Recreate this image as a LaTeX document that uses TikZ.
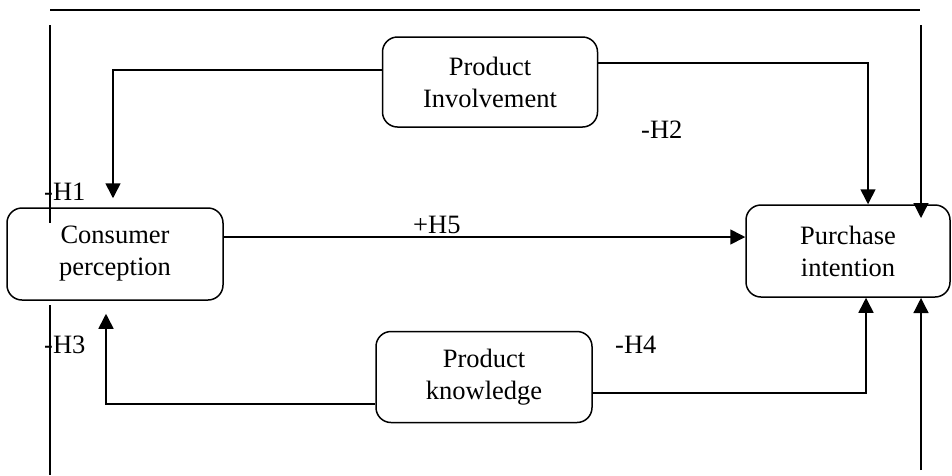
\documentclass[tikz,border=0pt]{standalone}
\usepackage{fontspec}
\setmainfont{Liberation Serif}
\usetikzlibrary{arrows.meta}
\begin{document}
\begin{tikzpicture}[x=1pt,y=-1pt,
  box/.style={draw, line width=1.5pt, rounded corners=15pt, align=center,
    inner sep=0pt, font=\fontsize{26.5}{32}\selectfont},
  arr/.style={line width=1.6pt, -{Triangle[length=15pt,width=15pt]}},
  frame/.style={line width=1.3pt},
  lbl/.style={anchor=west, inner sep=0pt, font=\fontsize{26.5}{32}\selectfont}]
\useasboundingbox (0,0) rectangle (952,475);
% boxes
\node[box, minimum width=215pt, minimum height=90pt] (inv) at (490,82) {Product\\Involvement};
\node[box, minimum width=216pt, minimum height=92pt] (cons) at (115,254) {Consumer\\perception};
\node[box, minimum width=204pt, minimum height=92pt] (pi) at (848,251) {Purchase\\intention};
\node[box, minimum width=216pt, minimum height=91pt] (know) at (484,377) {Product\\knowledge};
% frame
\coordinate (tl) at (50,10);
\coordinate (tr) at (920,10);
\draw[line width=1.6pt] (tl) -- (tr);
\coordinate (l1) at (50,25);
\coordinate (l2) at (50,223);
\coordinate (l3) at (50,305);
\coordinate (l4) at (50,475);
\draw[frame] (l1) -- (l2);
\draw[frame] (l3) -- (l4);
\coordinate (r1) at (921,25);
\coordinate (r2) at (921,218);
\coordinate (r3) at (921,470);
\coordinate (r4) at (921,298);
\draw[arr, line width=1.3pt] (r1) -- (r2);
\draw[arr, line width=1.3pt] (r3) -- (r4);
% connectors
\draw[arr, shorten >=9pt] ([yshift=12pt]inv.west) -| ([xshift=-2pt]cons.north);
\draw[arr] ([yshift=19pt]inv.east) -| ([xshift=20pt]pi.north);
\draw[arr] ([yshift=17pt]cons.east) coordinate (h5s) -- (h5s -| pi.west);
\draw[arr, shorten >=13pt] ([yshift=-27pt]know.west) -| ([xshift=-9pt]cons.south);
\draw[arr] ([yshift=-16pt]know.east) -| ([xshift=18pt]pi.south);
% labels
\node[lbl] (h1) at (44,192) {-H1};
\node[lbl] (h2) at (641,130) {-H2};
\node[lbl] (h3) at (44,345) {-H3};
\node[lbl] (h4) at (615,345) {-H4};
\node[lbl] (h5) at (413,225) {+H5};
\end{tikzpicture}
\end{document}
